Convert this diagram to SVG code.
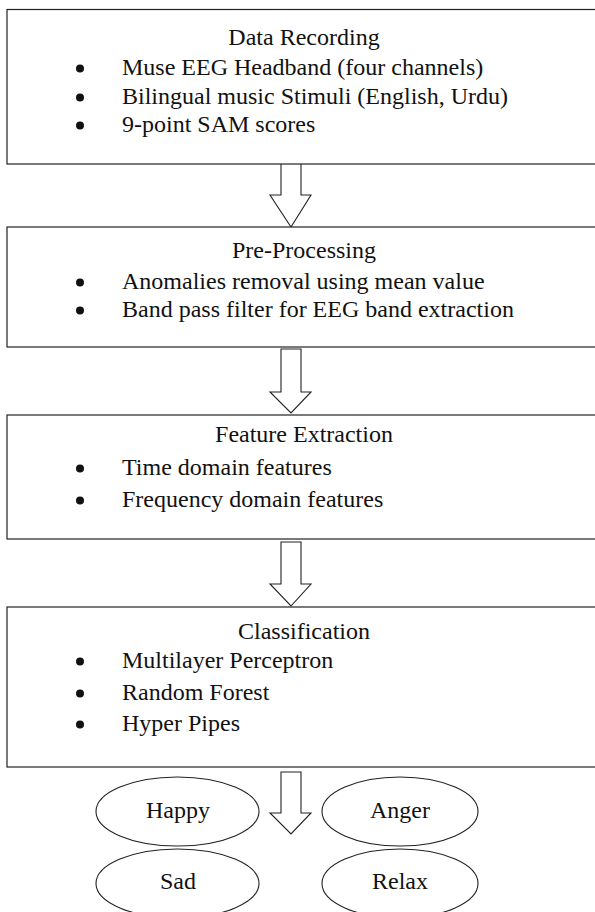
<svg xmlns="http://www.w3.org/2000/svg" width="595" height="912" viewBox="0 0 595 912">
<style>
.box{fill:#fff;stroke:#222;stroke-width:1.2}
.arr{fill:#fff;stroke:#222;stroke-width:1.1;stroke-linejoin:miter}
.ell{fill:#fff;stroke:#222;stroke-width:1.1}
text{font-family:"Liberation Serif","Times New Roman",serif;font-size:24px;fill:#111}
.t{text-anchor:middle}
.dot{fill:#111}
</style>
<rect width="595" height="912" fill="#fff"/>
<g id="connectors">
<path class="arr" d="M281,164 V195 H270 L291,227 L311,195 H301 V164"/>
<path class="arr" d="M281,349 V392 H270 L291,413 L311,392 H301 V349 Z"/>
<path class="arr" d="M281,542 V584 H270 L291,606 L311,584 H301 V542 Z"/>
<path class="arr" d="M281,772 V813 H270 L291,834 L311,813 H301 V772 Z"/>
</g>
<g id="data-recording">
<rect class="box" x="7" y="9.5" width="600" height="154.5"/>
<text class="t" x="304" y="45">Data Recording</text>
<circle class="dot" cx="80" cy="68.5" r="4"/>
<text x="122" y="75">Muse EEG Headband (four channels)</text>
<circle class="dot" cx="80" cy="97.5" r="4"/>
<text x="122" y="104">Bilingual music Stimuli (English, Urdu)</text>
<circle class="dot" cx="80" cy="125.5" r="4"/>
<text x="122" y="132">9-point SAM scores</text>
</g>
<g id="pre-processing">
<rect class="box" x="7" y="227" width="600" height="120"/>
<text class="t" x="304" y="258">Pre-Processing</text>
<circle class="dot" cx="80" cy="282.5" r="4"/>
<text x="122" y="289">Anomalies removal using mean value</text>
<circle class="dot" cx="80" cy="310.5" r="4"/>
<text x="122" y="317">Band pass filter for EEG band extraction</text>
</g>
<g id="feature-extraction">
<rect class="box" x="7" y="415" width="600" height="124"/>
<text class="t" x="304" y="442">Feature Extraction</text>
<circle class="dot" cx="80" cy="468.5" r="4"/>
<text x="122" y="475">Time domain features</text>
<circle class="dot" cx="80" cy="500.5" r="4"/>
<text x="122" y="507">Frequency domain features</text>
</g>
<g id="classification">
<rect class="box" x="7" y="607" width="600" height="160"/>
<text class="t" x="304" y="639">Classification</text>
<circle class="dot" cx="80" cy="661.5" r="4"/>
<text x="122" y="668">Multilayer Perceptron</text>
<circle class="dot" cx="80" cy="693.5" r="4"/>
<text x="122" y="700">Random Forest</text>
<circle class="dot" cx="80" cy="724.5" r="4"/>
<text x="122" y="731">Hyper Pipes</text>
</g>
<g id="happy">
<ellipse class="ell" cx="177.5" cy="811.5" rx="81.5" ry="34.5"/>
<text class="t" x="178" y="818">Happy</text>
</g>
<g id="anger">
<ellipse class="ell" cx="400" cy="811.5" rx="78" ry="34.5"/>
<text class="t" x="400" y="818">Anger</text>
</g>
<g id="sad">
<ellipse class="ell" cx="177.5" cy="883.5" rx="81.5" ry="34.5"/>
<text class="t" x="178" y="889">Sad</text>
</g>
<g id="relax">
<ellipse class="ell" cx="400" cy="883.5" rx="78" ry="34.5"/>
<text class="t" x="400" y="889">Relax</text>
</g>
</svg>
